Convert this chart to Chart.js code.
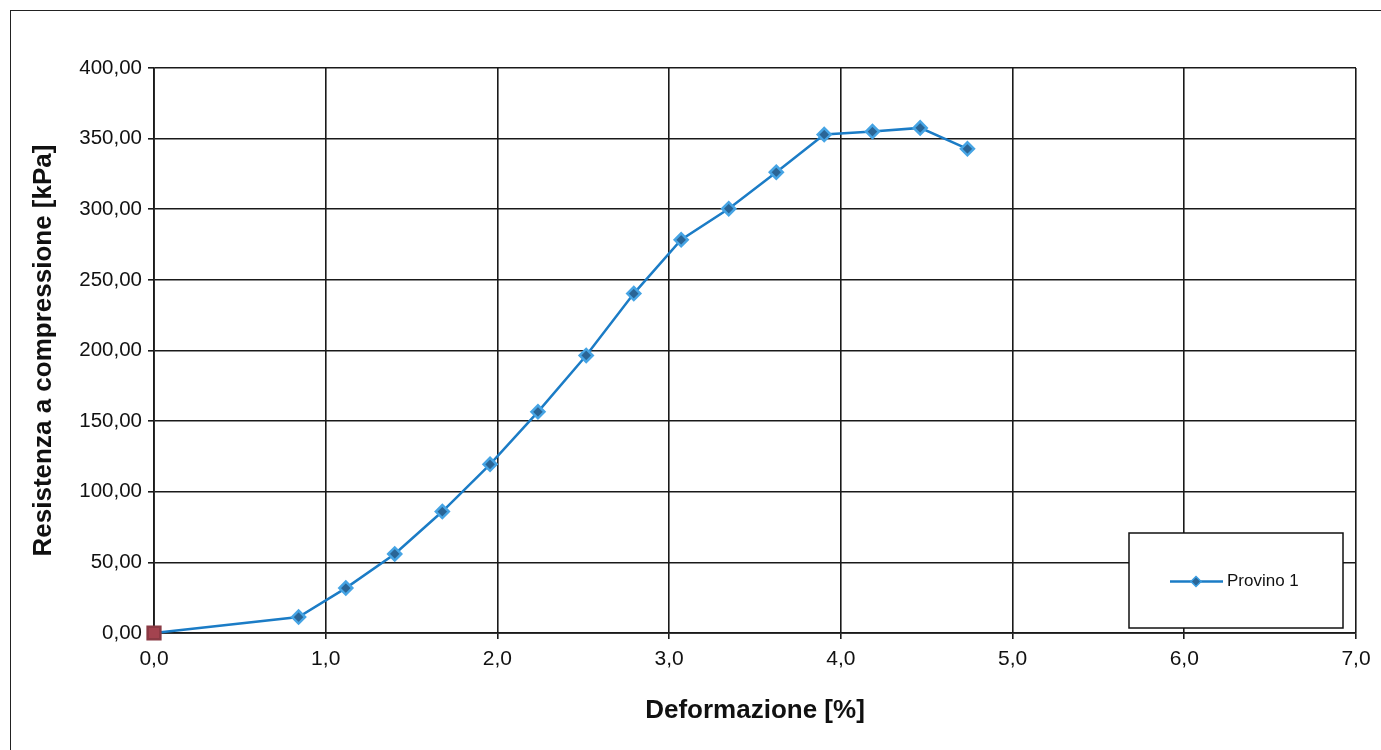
<!DOCTYPE html>
<html>
<head>
<meta charset="utf-8">
<script src="https://cdn.jsdelivr.net/npm/chart.js@4/dist/chart.umd.min.js"></script>
<style>
  html, body { margin: 0; padding: 0; background: #fff; }
  #wrap { position: relative; width: 1381px; height: 750px; }
  #frame { position: absolute; left: 10px; top: 10px; right: -2px; bottom: -2px;
           border-left: 1.5px solid #222; border-top: 1.5px solid #222; }
  canvas { position: absolute; left: 0; top: 0; }
</style>
</head>
<body>
<div id="wrap">
  <div id="frame"></div>
  <canvas id="myChart" width="1381" height="750"></canvas>
</div>
<script>
// data
const deformazione = [0.0, 0.842, 1.117, 1.402, 1.679, 1.957, 2.236, 2.517, 2.794, 3.070, 3.347, 3.624, 3.903, 4.184, 4.462, 4.737];
const resistenza   = [0.0, 11.3, 31.8, 56.0, 86.0, 119.4, 156.6, 196.5, 240.3, 278.4, 300.4, 326.2, 352.9, 355.0, 357.6, 342.8];
const seriesName = 'Provino 1';
const xTitle = 'Deformazione [%]';
const yTitle = 'Resistenza a compressione [kPa]';

const points = deformazione.map((x, i) => ({ x: x, y: resistenza[i] }));

const lineColor = '#1b7cc6';
const fmt = (v, d) => v.toFixed(d).replace('.', ',');

// legend box drawn inside the plot, like the original
const boxLegend = {
  id: 'boxLegend',
  afterDraw(chart) {
    const c = chart.ctx;
    const x = 1129, y = 533, w = 214, h = 95;
    c.save();
    c.fillStyle = '#fff';
    c.fillRect(x, y, w, h);
    c.strokeStyle = '#111';
    c.lineWidth = 1.5;
    c.strokeRect(x, y, w, h);
    const my = y + h / 2 + 1;
    c.strokeStyle = lineColor;
    c.lineWidth = 2.5;
    c.beginPath(); c.moveTo(x + 41, my); c.lineTo(x + 94, my); c.stroke();
    c.fillStyle = '#2a6596';
    c.strokeStyle = '#3a9ce0';
    c.lineWidth = 1.5;
    c.beginPath();
    const cx = x + 67, r = 5;
    c.moveTo(cx, my - r); c.lineTo(cx + r, my); c.lineTo(cx, my + r); c.lineTo(cx - r, my); c.closePath();
    c.fill(); c.stroke();
    c.fillStyle = '#111';
    c.font = '17px "Liberation Sans", Arial, sans-serif';
    c.textBaseline = 'middle';
    c.fillText(chart.data.datasets[0].label, x + 98, my);
    c.restore();
  }
};

const ctx = document.getElementById('myChart');
const myChart = new Chart(ctx, {
  type: 'scatter',
  data: {
    datasets: [{
      label: seriesName,
      data: points,
      showLine: true,
      clip: false,
      borderColor: lineColor,
      borderWidth: 2.5,
      pointStyle: (c) => c.dataIndex === 0 ? 'rect' : 'rectRot',
      pointRadius: (c) => c.dataIndex === 0 ? 9 : 6.5,
      pointBackgroundColor: (c) => c.dataIndex === 0 ? '#a3434f' : '#2a6596',
      pointBorderColor: (c) => c.dataIndex === 0 ? '#8a3a44' : '#46a4e4',
      pointBorderWidth: 2.5,
    }]
  },
  plugins: [boxLegend],
  options: {
    responsive: false,
    animation: false,
    layout: { padding: { left: 10, top: 68, right: 25, bottom: 10 } },
    plugins: { legend: { display: false }, tooltip: { enabled: false } },
    scales: {
      x: {
        type: 'linear', min: 0, max: 7,
        afterFit: (s) => { s.height = 107; },
        ticks: {
          stepSize: 1, color: '#111', padding: 8,
          font: { family: '"Liberation Sans", Arial', size: 21 },
          callback: (v) => fmt(v, 1)
        },
        grid: { color: '#1a1a1a', lineWidth: 1.6, tickLength: 6 },
        border: { color: '#1a1a1a', width: 1.8 },
        title: {
          display: true, text: xTitle, color: '#111',
          font: { family: '"Liberation Sans", Arial', size: 26, weight: 'bold' },
          padding: { top: 0, bottom: 14 }
        }
      },
      y: {
        min: 0, max: 400,
        afterFit: (s) => { s.width = 144; },
        ticks: {
          stepSize: 50, color: '#111', padding: 6,
          font: { family: '"Liberation Sans", Arial', size: 20.5 },
          callback: (v) => fmt(v, 2)
        },
        grid: { color: '#1a1a1a', lineWidth: 1.6, tickLength: 6 },
        border: { color: '#1a1a1a', width: 1.8 },
        title: {
          display: true, text: yTitle, color: '#111',
          font: { family: '"Liberation Sans", Arial', size: 26, weight: 'bold' },
          padding: { top: 18, bottom: 0 }
        }
      }
    }
  }
});
</script>
</body>
</html>
